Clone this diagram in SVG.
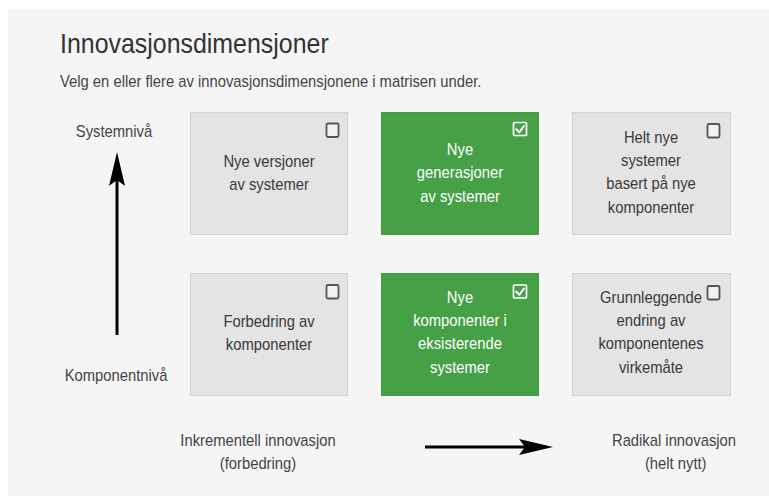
<svg xmlns="http://www.w3.org/2000/svg" width="769" height="496" viewBox="0 0 769 496">
<style>
text{font-family:"Liberation Sans",Arial,sans-serif}
.title{font-size:28px;fill:#333}
.sub{font-size:17px;fill:#444}
.lbl{font-size:17px;fill:#444;text-anchor:middle}
.box{fill:#e4e4e4;stroke:#d2d2d2;stroke-width:1}
.sel{fill:#45a046;stroke:#3f9a41;stroke-width:1}
.bt{font-size:17px;fill:#3a3a3a;text-anchor:middle}
.wt{font-size:17px;fill:#ffffff;text-anchor:middle}
.cb{fill:#f2f2f2;stroke:#555;stroke-width:1.8}
.cbs{fill:none;stroke:#ffffff;stroke-width:1.7}
.ck{fill:none;stroke:#ffffff;stroke-width:2;stroke-linecap:round;stroke-linejoin:round}
.arr{stroke:#000;stroke-width:3;fill:none}
</style>
<defs>
<marker id="head" markerUnits="userSpaceOnUse" viewBox="-8 -10 38 20" refX="0" refY="0" markerWidth="38" markerHeight="20" orient="auto">
<path d="M28,0 L-6,-8 L0,0 L-6,8 Z" fill="#000"/>
</marker>
</defs>
<rect x="0" y="0" width="769" height="496" fill="#ffffff"/>
<rect x="8" y="9" width="761" height="487" fill="#f5f5f5"/>
<g id="header">
<text class="title" transform="translate(60,53) scale(0.89,1)" x="0" y="0">Innovasjonsdimensjoner</text>
<text class="sub" transform="translate(60,87) scale(0.87,1)" x="0" y="0">Velg en eller flere av innovasjonsdimensjonene i matrisen under.</text>
</g>
<g id="label-systemniva"><text class="lbl" transform="translate(114,137) scale(0.87,1)" x="0" y="0">Systemnivå</text></g>
<g id="label-komponentniva"><text class="lbl" transform="translate(116,381) scale(0.87,1)" x="0" y="0">Komponentnivå</text></g>
<g id="label-inkrementell"><text class="lbl" transform="translate(258,446) scale(0.87,1)" x="0" y="0">Inkrementell innovasjon<tspan x="0" dy="23.5">(forbedring)</tspan></text></g>
<g id="label-radikal"><text class="lbl" transform="translate(674,446) scale(0.87,1)" x="0" y="0">Radikal innovasjon<tspan x="2" dy="23.5">(helt nytt)</tspan></text></g>
<g id="box-nye-versjoner">
<rect class="box" x="190.5" y="112.5" width="157" height="122"/>
<rect class="cb" x="326.5" y="123.5" width="12" height="13.5" rx="1.5"/>
<text class="bt" transform="translate(269,167) scale(0.87,1)" x="0" y="0">Nye versjoner<tspan x="0" dy="23.5">av systemer</tspan></text>
</g>
<g id="box-nye-generasjoner">
<rect class="sel" x="381.5" y="112.5" width="157" height="122"/>
<rect class="cbs" x="513.5" y="122.5" width="13" height="13" rx="1"/>
<polyline class="ck" points="516.3,129.3 519.3,132.3 524,126"/>
<text class="wt" transform="translate(460,155) scale(0.87,1)" x="0" y="0">Nye<tspan x="0" dy="23.5">generasjoner</tspan><tspan x="0" dy="23.5">av systemer</tspan></text>
</g>
<g id="box-helt-nye-systemer">
<rect class="box" x="572.5" y="112.5" width="158" height="122"/>
<rect class="cb" x="707.5" y="124" width="12" height="13.5" rx="1.5"/>
<text class="bt" transform="translate(651,142.5) scale(0.87,1)" x="0" y="0">Helt nye<tspan x="0" dy="23.5">systemer</tspan><tspan x="0" dy="23.5">basert på nye</tspan><tspan x="0" dy="23.5">komponenter</tspan></text>
</g>
<g id="box-forbedring">
<rect class="box" x="190.5" y="273.5" width="157" height="122"/>
<rect class="cb" x="326.5" y="285" width="12" height="13.5" rx="1.5"/>
<text class="bt" transform="translate(269,327) scale(0.87,1)" x="0" y="0">Forbedring av<tspan x="0" dy="23.5">komponenter</tspan></text>
</g>
<g id="box-nye-komponenter">
<rect class="sel" x="381.5" y="273.5" width="157" height="122"/>
<rect class="cbs" x="513.5" y="285" width="13" height="13" rx="1"/>
<polyline class="ck" points="516.3,291.8 519.3,294.8 524,288.5"/>
<text class="wt" transform="translate(460,302.5) scale(0.87,1)" x="0" y="0">Nye<tspan x="0" dy="23.5">komponenter i</tspan><tspan x="0" dy="23.5">eksisterende</tspan><tspan x="0" dy="23.5">systemer</tspan></text>
</g>
<g id="box-grunnleggende">
<rect class="box" x="572.5" y="273.5" width="158" height="122"/>
<rect class="cb" x="707.5" y="286" width="12" height="13.5" rx="1.5"/>
<text class="bt" transform="translate(651,302.5) scale(0.87,1)" x="0" y="0">Grunnleggende<tspan x="0" dy="23.5">endring av</tspan><tspan x="0" dy="23.5">komponentenes</tspan><tspan x="0" dy="23.5">virkemåte</tspan></text>
</g>
<g id="connectors">
<line class="arr" x1="117" y1="335" x2="117" y2="180" marker-end="url(#head)"/>
<line class="arr" x1="425" y1="447" x2="525" y2="447" marker-end="url(#head)"/>
</g>
</svg>
